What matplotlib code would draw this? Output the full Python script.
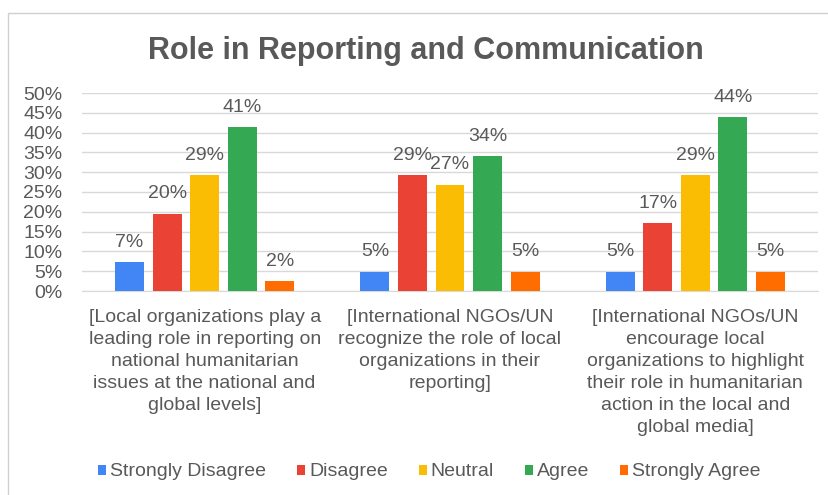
import numpy as np
import matplotlib.pyplot as plt
from matplotlib.patches import Rectangle

plt.rcParams['font.family'] = ['Liberation Sans', 'DejaVu Sans']

TEXT = "#595959"
GRID = "#d9d9d9"
FS = 14

# Survey statements (x categories)
statements = [
    "[Local organizations play a\nleading role in reporting on\nnational humanitarian\nissues at the national and\nglobal levels]",
    "[International NGOs/UN\nrecognize the role of local\norganizations in their\nreporting]",
    "[International NGOs/UN\nencourage local\norganizations to highlight\ntheir role in humanitarian\naction in the local and\nglobal media]",
]

responses = ["Strongly Disagree", "Disagree", "Neutral", "Agree", "Strongly Agree"]
colors = ["#4285F4", "#EA4335", "#FBBC04", "#34A853", "#FF6D01"]

# share of respondents (%) per statement
strongly_disagree = [7.3, 4.9, 4.9]
disagree = [19.5, 29.3, 17.1]
neutral = [29.3, 26.8, 29.3]
agree = [41.3, 34.1, 43.9]
strongly_agree = [2.4, 4.9, 4.9]
series = [strongly_disagree, disagree, neutral, agree, strongly_agree]

fig = plt.figure(figsize=(8.29, 4.95), dpi=100)

# outer chart box (only top/left edges fall inside the frame)
fig.patches.append(Rectangle((8 / 829, -0.1), 1.0, 1 - 13 / 495 + 0.1,
                             transform=fig.transFigure, fill=False,
                             edgecolor="#d0d0d0", linewidth=1.0))

ax = fig.add_axes([82 / 829, 1 - 291 / 495, (818 - 82) / 829, (291 - 93) / 495])

x = np.arange(len(statements))
step = 0.153
width = 0.118
for i, (vals, name, col) in enumerate(zip(series, responses, colors)):
    pos = x + (i - 2) * step
    ax.bar(pos, vals, width=width, color=col, label=name, zorder=3)
    for p, v in zip(pos, vals):
        ax.text(p, v + 3.9, f"{v:.0f}%", ha="center", va="baseline",
                fontsize=FS, color=TEXT)

ax.set_xlim(-0.5, 2.5)
ax.set_ylim(0, 50)
ax.set_yticks(np.arange(0, 51, 5))
ax.set_yticklabels([f"{t}%" for t in range(0, 51, 5)], fontsize=FS, color=TEXT)
ax.yaxis.grid(True, color=GRID, linewidth=1.0, zorder=0)
ax.set_axisbelow(True)
ax.tick_params(axis="y", length=0, pad=14)
ax.tick_params(axis="x", length=0, pad=13)
ax.set_xticks(x)
ax.set_xticklabels(statements, fontsize=FS, color=TEXT, linespacing=1.39)
for s in ["top", "right", "left"]:
    ax.spines[s].set_visible(False)
ax.spines["bottom"].set_color(GRID)

fig.text(0.514, 1 - 58.5 / 495, "Role in Reporting and Communication",
         ha="center", va="baseline", fontsize=22, fontweight="bold", color=TEXT)

fig.legend(loc="center", bbox_to_anchor=(0.518, 1 - 472 / 495), ncol=5,
           frameon=False, fontsize=FS, labelcolor=TEXT, handlelength=0.41,
           handleheight=0.41, handletextpad=0.2, columnspacing=1.6)

fig.savefig("out.png", dpi=100, facecolor="white")
